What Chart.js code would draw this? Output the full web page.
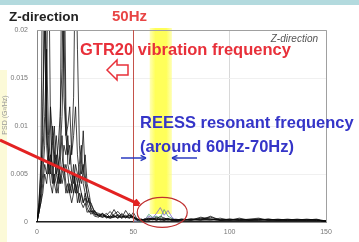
<!DOCTYPE html>
<html>
<head>
<meta charset="utf-8">
<script src="https://cdn.jsdelivr.net/npm/chart.js@4"></script>
<style>
  html, body { margin: 0; padding: 0; background: #fff; }
  canvas { display: block; }
</style>
</head>
<body>
<canvas id="psdChart" width="359" height="242"></canvas>
<script>
// frequency axis (Hz): 1 Hz steps up to 30, coarser above
const freqHz = [0,1,2,3,4,5,6,7,8,9,10,11,12,13,14,15,16,17,18,19,20,21,22,23,24,25,26,27,28,29,30,
    32,34,36,38,40,42,44,46,48,50,
    52,54,56,58,60,62,64,66,68,70,
    72,75,80,85,90,95,100,105,110,115,
    120,125,130,135,140,145,150];

// PSD curves (peaks above 0.02 are cut by the frame)
const psdA = [0,0.002,0.006,0.03,0.03,0.012,0.006,0.004,0.003,0.005,0.004,0.003,0.006,0.009,0.005,0.003,0.004,0.003,0.002,0.003,0.004,0.002,0.003,0.002,0.0015,0.002,0.001,0.0012,0.0008,0.001,0.0007,
    0.0008,0.0006,0.0009,0.0005,0.0007,0.0004,0.0006,0.0005,0.0009,0.0004,
    0.0002,0.0003,0.0002,0.0003,0.0004,0.0003,0.0006,0.0004,0.0003,0.0003,
    0.0002,0.0002,0.0003,0.0002,0.0006,0.0002,0.0002,0.0002,0.0003,0.0004,
    0.0002,0.0002,0.0003,0.0002,0.0002,0.0002,0.0001];
const psdB = [0,0.001,0.003,0.005,0.008,0.015,0.03,0.01,0.005,0.004,0.006,0.008,0.011,0.016,0.03,0.012,0.006,0.005,0.004,0.006,0.003,0.004,0.002,0.003,0.002,0.0025,0.0015,0.001,0.0012,0.0008,0.0006,
    0.0005,0.0009,0.0004,0.0006,0.0005,0.0008,0.0004,0.0012,0.0006,0.0005,
    0.0003,0.0002,0.0003,0.0002,0.0003,0.0005,0.0003,0.0004,0.0003,0.0002,
    0.0002,0.0003,0.0002,0.0004,0.0003,0.0002,0.0003,0.0002,0.0002,0.0003,
    0.0002,0.0002,0.0002,0.0002,0.0003,0.0002,0.0001];
const psdC = [0,0.001,0.002,0.004,0.006,0.005,0.007,0.012,0.009,0.006,0.007,0.005,0.004,0.006,0.008,0.007,0.009,0.006,0.008,0.013,0.03,0.018,0.008,0.005,0.006,0.004,0.003,0.002,0.0015,0.001,0.0012,
    0.0006,0.0005,0.0007,0.0011,0.0006,0.0004,0.0009,0.0005,0.0004,0.0006,
    0.0002,0.0002,0.0002,0.0004,0.0003,0.0002,0.0003,0.0002,0.0004,0.0002,
    0.0003,0.0002,0.0002,0.0003,0.0005,0.0002,0.0002,0.0003,0.0002,0.0002,
    0.0003,0.0002,0.0002,0.0002,0.0002,0.0003,0.0001];
const psdD = [0,0.0015,0.004,0.012,0.02,0.009,0.007,0.005,0.008,0.01,0.005,0.004,0.009,0.03,0.013,0.009,0.007,0.008,0.005,0.004,0.006,0.005,0.004,0.006,0.0095,0.005,0.003,0.002,0.002,0.0015,0.001,
    0.0009,0.0007,0.0005,0.0006,0.0013,0.0006,0.0005,0.0007,0.0004,0.0010,
    0.0003,0.0002,0.0003,0.0002,0.0003,0.0004,0.0002,0.0003,0.0002,0.0003,
    0.0002,0.0002,0.0003,0.0003,0.0002,0.0002,0.0003,0.0002,0.0002,0.0003,
    0.0002,0.0002,0.0002,0.0003,0.0002,0.0002,0.0001];
const psdE = [0,0.001,0.002,0.003,0.005,0.004,0.006,0.007,0.006,0.004,0.003,0.005,0.004,0.005,0.006,0.004,0.003,0.004,0.003,0.005,0.004,0.003,0.004,0.003,0.002,0.003,0.002,0.0015,0.001,0.0012,0.0008,
    0.0007,0.0005,0.0006,0.0004,0.0005,0.0007,0.0004,0.0006,0.0005,0.0004,
    0.0002,0.0003,0.0002,0.0002,0.0003,0.0002,0.0003,0.0002,0.0002,0.0002,
    0.0002,0.0002,0.0002,0.0002,0.0003,0.0002,0.0002,0.0002,0.0002,0.0002,
    0.0002,0.0002,0.0002,0.0002,0.0002,0.0002,0.0001];
const psdF = [0,0.002,0.005,0.009,0.03,0.008,0.005,0.006,0.004,0.007,0.005,0.006,0.005,0.004,0.005,0.006,0.005,0.003,0.004,0.003,0.005,0.004,0.006,0.008,0.004,0.003,0.002,0.0025,0.0012,0.001,0.0009,
    0.0006,0.0008,0.0005,0.0004,0.0006,0.0005,0.0008,0.0004,0.0007,0.0005,
    0.0003,0.0002,0.0002,0.0003,0.0002,0.0003,0.0002,0.0002,0.0003,0.0002,
    0.0002,0.0002,0.0003,0.0002,0.0002,0.0004,0.0002,0.0002,0.0002,0.0002,
    0.0003,0.0002,0.0002,0.0002,0.0002,0.0002,0.0001];
const psdH = [0,0.0012,0.003,0.007,0.011,0.018,0.009,0.006,0.01,0.007,0.009,0.006,0.007,0.011,0.02,0.009,0.01,0.012,0.007,0.009,0.012,0.007,0.005,0.004,0.005,0.007,0.004,0.003,0.0018,0.0014,0.001,
    0.0007,0.0009,0.0006,0.0005,0.0008,0.0011,0.0006,0.0005,0.0007,0.0006,
    0.0003,0.0002,0.0003,0.0004,0.0003,0.0002,0.0003,0.0002,0.0003,0.0002,
    0.0002,0.0003,0.0002,0.0005,0.0003,0.0002,0.0002,0.0004,0.0002,0.0002,
    0.0002,0.0003,0.0002,0.0002,0.0002,0.0002,0.0001];
// the coloured curves, only visible around the 60-70 Hz bumps
const psdPurple = [null,null,null,null,null,null,null,null,null,null,null,null,null,null,null,null,null,null,null,null,null,null,null,null,null,null,null,null,null,null,null,
    null,null,null,null,null,null,null,null,null,0.0001,
    0.0001,0.0002,0.0003,0.0006,0.0004,0.0009,0.0015,0.0007,0.0012,0.0005,
    0.0002,0.0001,null,null,null,null,null,null,null,null,
    null,null,null,null,null,null,null];
const psdGreen = [null,null,null,null,null,null,null,null,null,null,null,null,null,null,null,null,null,null,null,null,null,null,null,null,null,null,null,null,null,null,null,
    null,null,null,null,null,null,null,null,null,0.0001,
    0.0001,0.0001,0.0002,0.0008,0.0005,0.0006,0.0004,0.0013,0.0006,0.0004,
    0.0002,0.0001,null,null,null,null,null,null,null,null,
    null,null,null,null,null,null,null];

const blackSeries = [psdA, psdB, psdC, psdD, psdE, psdF, psdH];

const xTickValues = [0, 50, 100, 150];
const xTickLabels = ['0', '50', '100', '150'];
const yTickValues = [0, 0.005, 0.01, 0.015, 0.02];
const yTickLabels = ['0', '0.005', '0.01', '0.015', '0.02'];

const gtrHz = 50;              // GTR20 vibration frequency
const reessBandHz = [58.5, 70]; // REESS resonance band
const ellipseCenter = [65, 0.001];

function toPoints(values) {
    return values.map((v, i) => ({ x: freqHz[i], y: v }));
}

const datasets = blackSeries.map(s => ({
    data: toPoints(s),
    borderColor: 'rgba(10,10,10,0.85)',
    borderWidth: 0.9,
    pointRadius: 0,
    tension: 0
}));
datasets.push({ data: toPoints(psdPurple), borderColor: '#8a70c8', borderWidth: 0.9, pointRadius: 0, tension: 0 });
datasets.push({ data: toPoints(psdGreen), borderColor: '#5aa878', borderWidth: 0.9, pointRadius: 0, tension: 0 });

function arrowLine(ctx, x1, y1, x2, y2, head) {
    const a = Math.atan2(y2 - y1, x2 - x1);
    ctx.beginPath();
    ctx.moveTo(x1, y1);
    ctx.lineTo(x2, y2);
    ctx.stroke();
    ctx.beginPath();
    ctx.moveTo(x2, y2);
    ctx.lineTo(x2 - head * Math.cos(a - 0.45), y2 - head * Math.sin(a - 0.45));
    ctx.moveTo(x2, y2);
    ctx.lineTo(x2 - head * Math.cos(a + 0.45), y2 - head * Math.sin(a + 0.45));
    ctx.stroke();
}

const overlayPlugin = {
    id: 'overlay',
    beforeDraw(chart) {
        const { ctx, width } = chart;
        ctx.save();
        ctx.fillStyle = '#b3dade';
        ctx.fillRect(0, 0, width, 5);
        ctx.fillStyle = '#fcfad8';
        ctx.fillRect(0, 70, 7, 172);
        ctx.restore();
    },
    beforeDatasetsDraw(chart) {
        const { ctx, chartArea: area, scales: { x } } = chart;
        const x0 = x.getPixelForValue(reessBandHz[0]);
        const x1 = x.getPixelForValue(reessBandHz[1]);
        const g = ctx.createLinearGradient(x0, 0, x1, 0);
        g.addColorStop(0, 'rgba(255,255,120,0.55)');
        g.addColorStop(0.25, '#ffff5a');
        g.addColorStop(0.75, '#ffff5a');
        g.addColorStop(1, 'rgba(255,255,120,0.55)');
        ctx.save();
        ctx.fillStyle = g;
        ctx.fillRect(x0, area.top - 2, x1 - x0, area.bottom - area.top - 6);
        ctx.restore();
    },
    afterDatasetsDraw(chart) {
        const { ctx, chartArea: area, scales: { x, y } } = chart;
        ctx.save();

        // frame top / right
        ctx.strokeStyle = '#a0a0a0';
        ctx.lineWidth = 1;
        ctx.beginPath();
        ctx.moveTo(area.left, area.top + 0.5);
        ctx.lineTo(area.right + 0.5, area.top + 0.5);
        ctx.lineTo(area.right + 0.5, area.bottom);
        ctx.stroke();

        // 50 Hz line
        const xg = Math.round(x.getPixelForValue(gtrHz)) + 0.5;
        ctx.strokeStyle = '#c4524a';
        ctx.beginPath();
        ctx.moveTo(xg, area.top);
        ctx.lineTo(xg, area.bottom);
        ctx.stroke();

        // titles
        ctx.textBaseline = 'alphabetic';
        ctx.fillStyle = '#222';
        ctx.font = 'bold 13.5px "Liberation Sans", Arial, sans-serif';
        ctx.fillText('Z-direction', 9, 21);
        ctx.fillStyle = '#e84545';
        ctx.font = 'bold 15px "Liberation Sans", Arial, sans-serif';
        ctx.fillText('50Hz', 112, 21);

        ctx.fillStyle = '#555';
        ctx.font = 'italic 10px "Liberation Sans", Arial, sans-serif';
        ctx.textAlign = 'right';
        ctx.fillText('Z-direction', area.right - 8, 42);
        ctx.textAlign = 'left';

        // GTR20 label and hollow arrow
        ctx.fillStyle = '#e8303a';
        ctx.font = 'bold 16.5px "Liberation Sans", Arial, sans-serif';
        ctx.fillText('GTR20 vibration frequency', 80, 55);
        ctx.strokeStyle = '#e8303a';
        ctx.lineWidth = 1.5;
        ctx.fillStyle = '#fff';
        ctx.beginPath();
        ctx.moveTo(107, 70);
        ctx.lineTo(117, 60);
        ctx.lineTo(117, 65);
        ctx.lineTo(128, 65);
        ctx.lineTo(128, 75);
        ctx.lineTo(117, 75);
        ctx.lineTo(117, 80);
        ctx.closePath();
        ctx.fill();
        ctx.stroke();

        // REESS label and arrows
        ctx.fillStyle = '#3535c8';
        ctx.fillText('REESS resonant frequency', 140, 128);
        ctx.fillText('(around 60Hz-70Hz)', 140, 152);
        ctx.strokeStyle = '#2a3ac0';
        ctx.lineWidth = 1.5;
        arrowLine(ctx, 121, 158, 146, 158, 6);
        arrowLine(ctx, 197, 158, 172, 158, 6);

        // red pointer + ellipse
        const ex = x.getPixelForValue(ellipseCenter[0]);
        const ey = y.getPixelForValue(ellipseCenter[1]);
        ctx.strokeStyle = '#e32222';
        ctx.lineWidth = 3;
        arrowLine(ctx, 0, 140, ex - 23, ey - 8, 6);
        ctx.strokeStyle = '#c03030';
        ctx.lineWidth = 1.2;
        ctx.beginPath();
        ctx.ellipse(ex, ey, 25, 15, 0, 0, Math.PI * 2);
        ctx.stroke();

        // faint y title
        ctx.translate(5, 115);
        ctx.rotate(-Math.PI / 2);
        ctx.fillStyle = '#999';
        ctx.font = '7px "Liberation Sans", Arial, sans-serif';
        ctx.textAlign = 'center';
        ctx.textBaseline = 'middle';
        ctx.fillText('PSD (G²/Hz)', 0, 0);
        ctx.restore();
    }
};

new Chart(document.getElementById('psdChart'), {
    type: 'line',
    data: { datasets },
    options: {
        responsive: false,
        animation: false,
        devicePixelRatio: 1,
        layout: { padding: { top: 30, right: 33, left: 0, bottom: 0 } },
        plugins: { legend: { display: false }, tooltip: { enabled: false } },
        scales: {
            x: {
                type: 'linear',
                min: 0,
                max: 150,
                afterBuildTicks: axis => { axis.ticks = xTickValues.map(v => ({ value: v })); },
                afterFit: axis => { axis.height = 20; },
                ticks: {
                    callback: (v, i) => xTickLabels[i],
                    font: { size: 7, family: '"Liberation Sans", Arial, sans-serif' },
                    color: '#777',
                    padding: 6,
                    maxRotation: 0
                },
                grid: { color: '#d8d8d8', drawTicks: false },
                border: { color: '#222', width: 1.5 }
            },
            y: {
                min: 0,
                max: 0.02,
                afterBuildTicks: axis => { axis.ticks = yTickValues.map(v => ({ value: v })); },
                afterFit: axis => { axis.width = 37; },
                ticks: {
                    callback: (v, i) => yTickLabels[i],
                    font: { size: 7, family: '"Liberation Sans", Arial, sans-serif' },
                    color: '#777',
                    padding: 9
                },
                grid: { color: '#f0f0f0', drawTicks: false },
                border: { color: '#888' }
            }
        }
    },
    plugins: [overlayPlugin]
});
</script>
</body>
</html>
